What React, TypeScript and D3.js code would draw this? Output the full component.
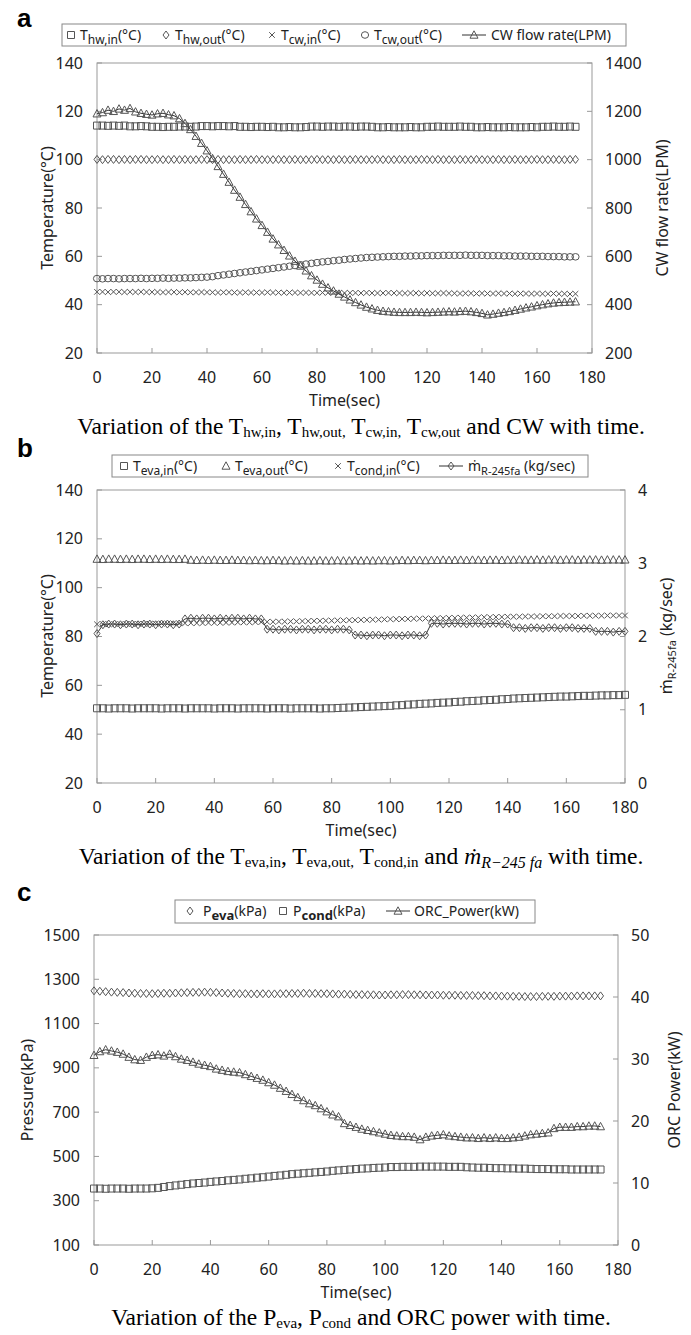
import React from "react";
import * as d3 from "d3";

// sampling times (sec)
const timeA = d3.range(0, 175, 2);
const timeB = d3.range(0, 181, 2);
const timeC = d3.range(0, 175, 2);

// tick labels
const timeTicks = [0, 20, 40, 60, 80, 100, 120, 140, 160, 180];
const tempTicks = [20, 40, 60, 80, 100, 120, 140];
const flowTicks = [200, 400, 600, 800, 1000, 1200, 1400];
const massTicks = [0, 1, 2, 3, 4];
const pressTicks = [100, 300, 500, 700, 900, 1100, 1300, 1500];
const powerTicks = [0, 10, 20, 30, 40, 50];

// ---- panel a ----
const hwIn = [
  114.1, 114.1, 114.0, 114.1, 114.0, 114.1, 113.8, 113.8, 113.9, 113.8,
  113.6, 113.6, 113.5, 113.6, 113.6, 113.7, 113.7, 113.6, 113.7, 113.9,
  113.9, 113.8, 113.9, 113.9, 113.8, 113.9, 113.6, 113.6, 113.5, 113.6,
  113.6, 113.5, 113.6, 113.4, 113.4, 113.5, 113.4, 113.4, 113.5, 113.7,
  113.7, 113.6, 113.7, 113.7, 113.6, 113.7, 113.7, 113.6, 113.7, 113.7,
  113.6, 113.4, 113.4, 113.5, 113.4, 113.4, 113.4, 113.5, 113.4, 113.4,
  113.6, 113.6, 113.7, 113.6, 113.6, 113.6, 113.7, 113.6, 113.6, 113.4,
  113.4, 113.5, 113.4, 113.4, 113.4, 113.5, 113.4, 113.4, 113.4, 113.5,
  113.4, 113.6, 113.6, 113.7, 113.6, 113.6, 113.7, 113.6,
];
const hwOut = [
  100.1, 100.0, 100.1, 100.1, 100.0, 100.1, 100.0, 100.1, 100.1, 100.0,
  100.0, 100.1, 100.0, 100.0, 100.1, 100.0, 100.1, 100.0, 100.0, 100.1,
  100.0, 100.0, 100.1, 100.0, 100.0, 100.0, 100.1, 100.0, 100.0, 100.1,
  100.0, 100.0, 100.0, 100.1, 100.0, 100.0, 100.1, 100.0, 100.0, 100.0,
  100.1, 100.0, 100.0, 100.0, 100.1, 100.0, 100.0, 100.1, 100.0, 100.0,
  100.0, 100.1, 100.0, 100.0, 100.0, 100.1, 100.0, 100.0, 100.0, 100.1,
  100.0, 100.0, 100.1, 100.0, 100.0, 100.0, 100.1, 100.0, 100.0, 100.1,
  100.0, 100.0, 100.0, 100.1, 100.0, 100.0, 100.1, 100.0, 100.0, 100.0,
  100.1, 100.0, 100.0, 100.1, 100.0, 100.0, 100.1, 100.1,
];
const cwIn = [
  45.3, 45.3, 45.2, 45.3, 45.3, 45.2, 45.3, 45.2, 45.3, 45.2, 45.2,
  45.2, 45.1, 45.2, 45.2, 45.1, 45.2, 45.1, 45.1, 45.2, 45.1, 45.1, 45.0, 45.1, 45.1, 45.0,
  45.0, 45.1, 45.0, 45.0, 45.0, 45.1, 45.0, 45.0, 44.9, 45.0, 45.0, 44.9, 45.0, 44.9, 44.9,
  45.0, 44.9, 44.9, 44.9, 44.8, 44.9, 44.9, 44.8, 44.9, 44.8,
  44.8, 44.8, 44.9, 44.8, 44.8, 44.7, 44.8, 44.8, 44.7, 44.8, 44.7, 44.7, 44.8, 44.7, 44.7,
  44.6, 44.7, 44.7, 44.6, 44.7,
  44.6, 44.6, 44.7, 44.6, 44.6, 44.5, 44.6, 44.6, 44.5, 44.6, 44.5, 44.5, 44.6, 44.5, 44.5,
  44.4, 44.5,
];
const cwOut = [
  50.8, 50.7, 50.8, 50.8, 50.7, 50.8, 50.8, 50.8, 50.9, 50.8, 50.9, 50.9, 51.0, 50.9, 51.0,
  51.0, 51.1, 51.1, 51.2, 51.3, 51.4,
  51.6, 52.0, 52.3, 52.6, 52.9, 53.2, 53.5, 53.8, 54.1, 54.4, 54.7, 55.0, 55.3, 55.6, 55.9,
  56.2, 56.5, 56.8, 57.1, 57.4, 57.7, 57.9, 58.2, 58.4, 58.7, 58.9, 59.1, 59.3, 59.5, 59.6,
  59.7, 59.8, 59.9, 60.0, 60.0, 60.1, 60.1, 60.2, 60.2, 60.3, 60.3, 60.3, 60.4, 60.4, 60.4,
  60.4, 60.5, 60.4, 60.4, 60.4,
  60.3, 60.3, 60.3, 60.2, 60.2, 60.1, 60.1, 60.1, 60.0, 60.0, 60.0, 59.9, 59.9, 59.9, 59.8,
  59.8, 59.8,
];
const cwFlow = [
  1190, 1195, 1205, 1200, 1210, 1205, 1212, 1198, 1192, 1188,
  1185, 1190, 1192, 1186, 1182, 1170, 1150, 1125, 1097, 1068,
  1037, 1005, 972, 940, 907, 874, 845, 815, 785, 755,
  728, 700, 672, 648, 625, 602, 580, 560, 540, 520,
  502, 485, 470, 457, 444, 432, 420, 409, 399, 390,
  383, 377, 373, 371, 369, 368, 368, 368, 369, 368,
  367, 368, 369, 370, 371, 370, 372, 373, 371, 368,
  364, 358, 361, 365, 368, 372, 377, 382, 387, 391,
  396, 400, 404, 407, 409, 410, 411, 412,
];

// ---- panel b ----
const evaIn = [
  50.6, 50.6, 50.5, 50.6, 50.6, 50.6, 50.5, 50.6, 50.6, 50.6,
  50.6, 50.5, 50.6, 50.6, 50.6, 50.5, 50.6, 50.6, 50.6, 50.6,
  50.5, 50.6, 50.6, 50.6, 50.5, 50.6, 50.6, 50.6, 50.6, 50.5,
  50.6, 50.6, 50.6, 50.5, 50.6, 50.6, 50.6, 50.6, 50.5, 50.6, 50.6,
  50.7, 50.8, 50.9, 51.0, 51.1, 51.2, 51.3, 51.4, 51.5, 51.6,
  51.8, 51.9, 52.1, 52.2, 52.4, 52.5, 52.6, 52.8, 52.9, 53.0,
  53.2, 53.3, 53.5, 53.6, 53.7, 53.9, 54.0, 54.1, 54.3, 54.4,
  54.6, 54.7, 54.8, 54.9, 55.0, 55.1, 55.2, 55.3, 55.4, 55.4,
  55.5, 55.6, 55.7, 55.7, 55.8, 55.9, 55.9, 56.0, 56.0, 56.1,
];
const evaOut = [
  111.7, 111.6, 111.7, 111.7, 111.6, 111.7, 111.6, 111.7, 111.7, 111.6, 111.7, 111.6, 111.7,
  111.6, 111.6, 111.7,
  111.3, 111.2, 111.3, 111.2, 111.3, 111.2, 111.2, 111.3, 111.2, 111.2, 111.1, 111.2, 111.1,
  111.1, 111.2, 111.1, 111.0, 111.1, 111.0, 111.1, 111.0, 111.0, 111.1, 111.0, 111.0, 111.1,
  111.0, 111.0, 111.1, 111.0, 111.1, 111.0, 111.1, 111.1, 111.0,
  111.1, 111.2, 111.1, 111.2, 111.2, 111.1, 111.2, 111.2, 111.3, 111.2, 111.2, 111.3, 111.2,
  111.3, 111.3, 111.2, 111.3, 111.3, 111.2, 111.3, 111.3, 111.4, 111.3, 111.3, 111.4, 111.3,
  111.4, 111.4, 111.3, 111.4, 111.4, 111.3, 111.4, 111.4, 111.4, 111.3, 111.4, 111.4, 111.4,
  111.4,
];
const condIn = [
  85.0, 85.1, 85.0, 85.1, 85.1, 85.2, 85.1, 85.2, 85.2, 85.2, 85.3,
  85.3, 85.3, 85.4, 85.4, 85.4, 85.5, 85.5, 85.5, 85.6, 85.6, 85.6, 85.7, 85.7, 85.8, 85.8,
  85.8, 85.9, 85.9, 86.0, 86.0,
  86.1, 86.1, 86.2, 86.2, 86.3, 86.3, 86.4, 86.4, 86.5, 86.5, 86.6, 86.6, 86.7, 86.7, 86.8,
  86.8, 86.9, 86.9, 87.0, 87.1,
  87.1, 87.2, 87.2, 87.3, 87.3, 87.4, 87.4, 87.5, 87.5, 87.6, 87.6, 87.7, 87.7, 87.8, 87.8,
  87.9, 87.9, 88.0, 88.0, 88.1,
  88.1, 88.1, 88.2, 88.2, 88.2, 88.3, 88.3, 88.3, 88.4, 88.4, 88.4, 88.4, 88.5, 88.5, 88.5,
  88.5, 88.6, 88.6, 88.6, 88.6,
];
const massFlow = [
  2.04,
  2.16, 2.17, 2.17, 2.16, 2.17, 2.17, 2.16, 2.17, 2.17, 2.16, 2.17, 2.17, 2.16, 2.17,
  2.24, 2.25, 2.24, 2.25, 2.25, 2.24, 2.25, 2.24, 2.25, 2.25, 2.24, 2.25, 2.24, 2.24,
  2.10, 2.10, 2.09, 2.10, 2.10, 2.09, 2.10, 2.10, 2.09, 2.10, 2.10, 2.09, 2.10, 2.10, 2.09,
  2.02, 2.02, 2.01, 2.02, 2.02, 2.01, 2.02, 2.02, 2.01, 2.02, 2.02, 2.01, 2.02,
  2.18, 2.18, 2.17, 2.18, 2.18, 2.18, 2.17, 2.18, 2.18, 2.17, 2.18, 2.18, 2.17, 2.17,
  2.12, 2.12, 2.11, 2.12, 2.12, 2.11, 2.12, 2.12, 2.11, 2.12, 2.12, 2.11, 2.11, 2.11,
  2.07, 2.07, 2.07, 2.06, 2.07, 2.07,
];

// ---- panel c ----
const pEva = [
  1248, 1246, 1244, 1242, 1241, 1240, 1238, 1237, 1236, 1236, 1235,
  1236, 1237, 1237, 1238, 1239, 1240, 1241, 1241, 1242, 1241,
  1240, 1238, 1237, 1236, 1235, 1235, 1234, 1234, 1235, 1234,
  1234, 1235, 1235, 1236, 1236, 1237, 1236, 1236, 1235, 1235,
  1234, 1233, 1233, 1232, 1231, 1231, 1230, 1230, 1229, 1229,
  1230, 1230, 1231, 1231, 1230, 1230, 1229, 1229, 1229, 1228,
  1228, 1228, 1227, 1227, 1227, 1226, 1226, 1225, 1225, 1224,
  1224, 1223, 1223, 1222, 1222, 1222, 1223, 1223, 1223, 1224,
  1224, 1224, 1225, 1225, 1225, 1225, 1225,
];
const pCond = [
  355, 355, 354, 355, 355, 355, 354, 355, 355, 355, 356,
  358, 362, 366, 369, 372, 375, 378, 380, 382, 385,
  387, 389, 392, 394, 396, 399, 401, 404, 406, 409,
  412, 414, 417, 420, 422, 424, 426, 428, 430, 432,
  435, 437, 439, 441, 443, 445, 446, 448, 449, 450,
  452, 452, 453, 453, 453, 454, 454, 454, 454, 454,
  453, 453, 453, 451, 450, 449, 449, 448, 447, 447,
  446, 446, 445, 445, 444, 443, 443, 443, 442, 442,
  442, 441, 441, 441, 441, 441, 441,
];
const orcPower = [
  30.6, 31.2, 31.5, 31.3, 31.1, 30.8, 30.3, 29.9, 29.8, 30.3, 30.6,
  30.7, 30.5, 30.8, 30.4, 30.0, 29.8, 29.5, 29.2, 29.0, 28.8,
  28.4, 28.2, 28.0, 27.9, 27.8, 27.5, 27.2, 26.9, 26.6, 26.2,
  25.8, 25.3, 24.8, 24.3, 23.8, 23.3, 22.8, 22.5, 22.0, 21.5, 21.0,
  20.7, 19.6, 19.3, 19.0, 18.7, 18.5, 18.3, 18.1, 17.9, 17.7,
  17.6, 17.5, 17.5, 17.4, 17.0, 17.4, 17.6, 17.7, 17.8, 17.6,
  17.5, 17.4, 17.3, 17.3, 17.2, 17.3, 17.2, 17.3, 17.2, 17.2,
  17.3, 17.4, 17.6, 17.8, 17.9, 18.0, 18.1, 18.8, 19.0, 19.0,
  19.0, 19.1, 19.1, 19.2, 19.2, 19.1,
];

const SANS = "'Noto Sans', 'DejaVu Sans', sans-serif";
const SERIF = "'Liberation Serif', 'DejaVu Serif', serif";
const BOLD = "'Liberation Sans', Arial, sans-serif";
const MARK = "#555";
const AXIS = "#999";
const CAP = 23.5;

function Marker({ kind, x, y }) {
  const t = `translate(${x},${y})`;
  const common = { fill: "none", stroke: MARK, strokeWidth: 1, transform: t };
  if (kind === "square") return <path {...common} d="M-3.5,-3.5h7v7h-7Z" />;
  if (kind === "diamond") return <path {...common} d="M0,-4L3,0L0,4L-3,0Z" />;
  if (kind === "circle") return <ellipse {...common} rx={3.6} ry={3.3} />;
  if (kind === "times") return <path {...common} d="M-2.8,-2.8L2.8,2.8M-2.8,2.8L2.8,-2.8" />;
  return <path {...common} d="M0,-4.2L4,3.2L-4,3.2Z" />;
}

function Sub({ base, sub, rest, size = 12, shift = 4, bold = false }) {
  return (
    <>
      <tspan>{base}</tspan>
      <tspan fontSize={size} dy={shift} fontWeight={bold ? "bold" : undefined}>{sub}</tspan>
      <tspan dy={-shift}>{rest}</tspan>
    </>
  );
}

function Panel({ frame, time, left, right, series }) {
  const { x0, x1, y0, y1 } = frame;
  const x = d3.scaleLinear().domain([0, 180]).range([x0, x1]);
  const yL = d3.scaleLinear().domain(left.domain).range([y1, y0]);
  const yR = d3.scaleLinear().domain(right.domain).range([y1, y0]);
  return (
    <g>
      <rect x={x0} y={y0} width={x1 - x0} height={y1 - y0} fill="none" stroke={AXIS} strokeWidth={1} />
      {left.ticks.map((v) => (
        <g key={"l" + v}>
          <line x1={x0} x2={x0 + 5} y1={yL(v)} y2={yL(v)} stroke={AXIS} />
          <text x={x0 - 14} y={yL(v)} dy="0.35em" textAnchor="end">{v}</text>
        </g>
      ))}
      {right.ticks.map((v) => (
        <g key={"r" + v}>
          <line x1={x1 - 5} x2={x1} y1={yR(v)} y2={yR(v)} stroke={AXIS} />
          <text x={x1 + 13} y={yR(v)} dy="0.35em" textAnchor="start">{v}</text>
        </g>
      ))}
      {timeTicks.map((v) => (
        <g key={"x" + v}>
          <line x1={x(v)} x2={x(v)} y1={y1} y2={y1 - 5} stroke={AXIS} />
          <text x={x(v)} y={y1 + 24} dy="0.35em" textAnchor="middle">{v}</text>
        </g>
      ))}
      <text x={(x0 + x1) / 2} y={y1 + 47} dy="0.35em" textAnchor="middle">Time(sec)</text>
      {series.map((s, i) => {
        const y = s.axis === "R" ? yR : yL;
        const pts = time.map((t, j) => [x(t), y(s.values[j])]);
        const path = s.line ? d3.line()(pts) : null;
        return (
          <g key={i}>
            {path && <path d={path} fill="none" stroke="#333" strokeWidth={1} />}
            {pts.map((p, j) => (
              <Marker key={j} kind={s.marker} x={p[0]} y={p[1]} />
            ))}
          </g>
        );
      })}
    </g>
  );
}

function LegendBox({ x0, x1, y0, y1 }) {
  return <rect x={x0} y={y0} width={x1 - x0} height={y1 - y0} fill="#fff" stroke="#888" />;
}

function LineMark({ xa, xb, y, kind }) {
  return (
    <g>
      <line x1={xa} x2={xb} y1={y} y2={y} stroke="#333" />
      <Marker kind={kind} x={(xa + xb) / 2} y={y} />
    </g>
  );
}

export default function App() {
  const fA = { x0: 97, x1: 592, y0: 63, y1: 353 };
  const fB = { x0: 97, x1: 625, y0: 490, y1: 783 };
  const fC = { x0: 94, x1: 618, y0: 935, y1: 1245 };
  const la = 35;
  const lb = 466;
  const lc = 911;
  return (
    <svg
      width={691}
      height={1335}
      style={{ position: "absolute", left: 0, top: 0, background: "#fff" }}
      fontFamily={SANS}
      fontSize={16}
      fill="#222"
    >
      {/* ---------- a ---------- */}
      <text x={17} y={27} fontFamily={BOLD} fontWeight="bold" fontSize={26} fill="#000">a</text>
      <LegendBox x0={62} x1={626} y0={24} y1={46} />
      <g fontSize={14}>
        <Marker kind="square" x={71} y={la} />
        <text x={80} y={la + 5}><Sub base="T" sub="hw,in" rest="(°C)" /></text>
        <Marker kind="diamond" x={166} y={la} />
        <text x={175} y={la + 5}><Sub base="T" sub="hw,out" rest="(°C)" /></text>
        <Marker kind="times" x={272} y={la} />
        <text x={281} y={la + 5}><Sub base="T" sub="cw,in" rest="(°C)" /></text>
        <Marker kind="circle" x={365} y={la} />
        <text x={374} y={la + 5}><Sub base="T" sub="cw,out" rest="(°C)" /></text>
        <LineMark xa={462} xb={486} y={la} kind="triangle" />
        <text x={491} y={la + 5}>CW flow rate(LPM)</text>
      </g>
      <Panel
        frame={fA}
        time={timeA}
        left={{ domain: [20, 140], ticks: tempTicks }}
        right={{ domain: [200, 1400], ticks: flowTicks }}
        series={[
          { values: hwIn, marker: "square", axis: "L" },
          { values: hwOut, marker: "diamond", axis: "L" },
          { values: cwIn, marker: "times", axis: "L" },
          { values: cwOut, marker: "circle", axis: "L" },
          { values: cwFlow, marker: "triangle", axis: "R", line: true },
        ]}
      />
      <text transform="translate(53,208) rotate(-90)" textAnchor="middle">Temperature(°C)</text>
      <text transform="translate(668,208) rotate(-90)" textAnchor="middle">CW flow rate(LPM)</text>
      <text x={361} y={434} textAnchor="middle" fontFamily={SERIF} fontSize={CAP} fill="#000">
        Variation of the <Sub base="T" sub="hw,in" rest=", " size={15} shift={3} />
        <Sub base="T" sub="hw,out," rest=" " size={15} shift={3} />
        <Sub base="T" sub="cw,in," rest=" " size={15} shift={3} />
        <Sub base="T" sub="cw,out" rest=" and CW with time." size={15} shift={3} />
      </text>

      {/* ---------- b ---------- */}
      <text x={17} y={457} fontFamily={BOLD} fontWeight="bold" fontSize={26} fill="#000">b</text>
      <LegendBox x0={112} x1={588} y0={455} y1={477} />
      <g fontSize={14}>
        <Marker kind="square" x={124} y={lb} />
        <text x={133} y={lb + 5}><Sub base="T" sub="eva,in" rest="(°C)" /></text>
        <Marker kind="triangle" x={226} y={lb} />
        <text x={235} y={lb + 5}><Sub base="T" sub="eva,out" rest="(°C)" /></text>
        <Marker kind="times" x={338} y={lb} />
        <text x={347} y={lb + 5}><Sub base="T" sub="cond,in" rest="(°C)" /></text>
        <LineMark xa={439} xb={463} y={lb} kind="diamond" />
        <text x={468} y={lb + 5}><Sub base="ṁ" sub="R-245fa" rest=" (kg/sec)" size={11} /></text>
      </g>
      <Panel
        frame={fB}
        time={timeB}
        left={{ domain: [20, 140], ticks: tempTicks }}
        right={{ domain: [0, 4], ticks: massTicks }}
        series={[
          { values: evaIn, marker: "square", axis: "L" },
          { values: evaOut, marker: "triangle", axis: "L" },
          { values: condIn, marker: "times", axis: "L" },
          { values: massFlow, marker: "diamond", axis: "R", line: true },
        ]}
      />
      <text transform="translate(53,636) rotate(-90)" textAnchor="middle">Temperature(°C)</text>
      <text transform="translate(672,636) rotate(-90)" textAnchor="middle">
        <Sub base="ṁ" sub="R-245fa" rest=" (kg/sec)" size={11} />
      </text>
      <text x={361} y={864} textAnchor="middle" fontFamily={SERIF} fontSize={CAP} fill="#000">
        Variation of the <Sub base="T" sub="eva,in" rest=", " size={15} shift={3} />
        <Sub base="T" sub="eva,out," rest=" " size={15} shift={3} />
        <Sub base="T" sub="cond,in" rest=" and   " size={15} shift={3} />
        <tspan fontStyle="italic">ṁ</tspan>
        <tspan fontStyle="italic" fontSize={16} dy={4}>R−245 fa</tspan>
        <tspan dy={-4}> with time.</tspan>
      </text>

      {/* ---------- c ---------- */}
      <text x={17} y={901} fontFamily={BOLD} fontWeight="bold" fontSize={26} fill="#000">c</text>
      <LegendBox x0={175} x1={535} y0={900} y1={923} />
      <g fontSize={14}>
        <Marker kind="diamond" x={190} y={lc} />
        <text x={203} y={lc + 5}><Sub base="P" sub="eva" rest="(kPa)" size={13} bold /></text>
        <Marker kind="square" x={283} y={lc} />
        <text x={293} y={lc + 5}><Sub base="P" sub="cond" rest="(kPa)" size={13} bold /></text>
        <LineMark xa={386} xb={410} y={lc} kind="triangle" />
        <text x={414} y={lc + 5}>ORC_Power(kW)</text>
      </g>
      <Panel
        frame={fC}
        time={timeC}
        left={{ domain: [100, 1500], ticks: pressTicks }}
        right={{ domain: [0, 50], ticks: powerTicks }}
        series={[
          { values: pEva, marker: "diamond", axis: "L" },
          { values: pCond, marker: "square", axis: "L" },
          { values: orcPower, marker: "triangle", axis: "R", line: true },
        ]}
      />
      <text transform="translate(33,1090) rotate(-90)" textAnchor="middle">Pressure(kPa)</text>
      <text transform="translate(680,1090) rotate(-90)" textAnchor="middle">ORC Power(kW)</text>
      <text x={361} y={1325} textAnchor="middle" fontFamily={SERIF} fontSize={CAP} fill="#000">
        Variation of the <Sub base="P" sub="eva" rest=", " size={15} shift={3} />
        <Sub base="P" sub="cond" rest=" and ORC power with time." size={15} shift={3} />
      </text>
    </svg>
  );
}
